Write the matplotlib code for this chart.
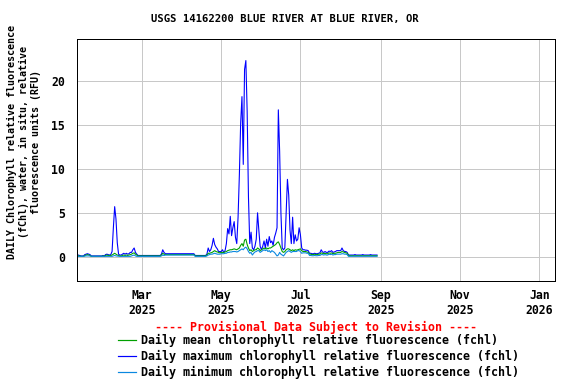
import matplotlib
matplotlib.use('Agg')
import matplotlib.pyplot as plt
import matplotlib.dates as mdates
import numpy as np
import pandas as pd
from matplotlib.lines import Line2D

plt.rcParams['font.family'] = 'DejaVu Sans Mono'
plt.rcParams['font.weight'] = 'bold'

# daily values, 2025-01-10 .. 2025-08-29
start_date = '2025-01-10'

fchl_max = [
    # Jan
    0.2, 0.2, 0.15, 0.1, 0.1, 0.1, 0.25, 0.3, 0.35, 0.3, 0.25,
    0.1, 0.1, 0.1, 0.1, 0.1, 0.1, 0.1, 0.1, 0.1, 0.15, 0.1,
    # Feb
    0.25, 0.3, 0.25, 0.2, 0.25, 0.6, 3.3, 5.7, 4.3, 1.6, 0.3,
    0.2, 0.2, 0.3, 0.4, 0.3, 0.4, 0.3, 0.35, 0.5,
    0.5, 0.8, 1.0, 0.5, 0.3, 0.15, 0.15, 0.15,
    # Mar
    0.15, 0.15, 0.15, 0.15, 0.15, 0.15, 0.15, 0.15, 0.15, 0.15,
    0.15, 0.15, 0.15, 0.15, 0.15, 0.3, 0.8, 0.5,
    0.35, 0.35, 0.35, 0.35, 0.35, 0.35, 0.35, 0.35, 0.35, 0.35, 0.35, 0.35, 0.35,
    # Apr
    0.35, 0.35, 0.35, 0.35, 0.35, 0.35, 0.35, 0.35, 0.35, 0.35,
    0.15, 0.15, 0.15, 0.15, 0.15, 0.15, 0.15, 0.15, 0.15,
    0.3, 1.0, 0.6, 0.8, 1.3, 2.1, 1.4, 1.1, 0.9, 0.6, 0.6,
    # May
    0.6, 0.8, 0.5, 0.7, 1.5, 3.2, 2.6, 4.6, 2.4, 3.3,
    4.0, 2.2, 1.5, 4.5, 9.3, 15.2, 18.2, 10.5, 21.3, 22.3,
    16.5, 6.8, 1.5, 2.8, 1.0, 0.8, 1.2, 2.0, 5.0, 3.0, 1.2,
    # Jun
    0.8, 1.2, 1.8, 1.0, 2.0, 1.2, 2.3, 1.6, 1.8, 1.3,
    2.2, 2.7, 3.3, 16.7, 12.0, 5.0, 1.0, 0.8, 1.0, 5.0,
    8.8, 7.0, 3.0, 1.5, 4.5, 1.5, 2.5, 1.8, 2.0, 3.3,
    # Jul
    2.5, 1.0, 0.8, 0.8, 0.75, 0.75, 0.7, 0.4, 0.4, 0.35,
    0.35, 0.4, 0.35, 0.35, 0.4, 0.45, 0.8, 0.55, 0.5, 0.6,
    0.5, 0.5, 0.65, 0.6, 0.7, 0.5, 0.55, 0.6, 0.7, 0.7, 0.7,
    # Aug
    0.7, 1.0, 0.7, 0.6, 0.6, 0.5, 0.2, 0.2, 0.2, 0.2,
    0.2, 0.25, 0.2, 0.2, 0.2, 0.2, 0.2, 0.25, 0.2, 0.2,
    0.2, 0.2, 0.2, 0.25, 0.2, 0.2, 0.2, 0.2, 0.2,
]

fchl_mean = [
    # Jan
    0.1, 0.1, 0.1, 0.05, 0.05, 0.05, 0.15, 0.2, 0.25, 0.2, 0.15,
    0.05, 0.05, 0.05, 0.05, 0.05, 0.05, 0.05, 0.05, 0.05, 0.1, 0.05,
    # Feb
    0.15, 0.2, 0.15, 0.15, 0.15, 0.2, 0.3, 0.4, 0.3, 0.2, 0.15,
    0.1, 0.1, 0.15, 0.2, 0.15, 0.2, 0.15, 0.2, 0.25,
    0.3, 0.4, 0.45, 0.3, 0.2, 0.1, 0.1, 0.1,
    # Mar
    0.1, 0.1, 0.1, 0.1, 0.1, 0.1, 0.1, 0.1, 0.1, 0.1,
    0.1, 0.1, 0.1, 0.1, 0.1, 0.2, 0.4, 0.3,
    0.25, 0.25, 0.25, 0.25, 0.25, 0.25, 0.25, 0.25, 0.25, 0.25, 0.25, 0.25, 0.25,
    # Apr
    0.25, 0.25, 0.25, 0.25, 0.25, 0.25, 0.25, 0.25, 0.25, 0.25,
    0.1, 0.1, 0.1, 0.1, 0.1, 0.1, 0.1, 0.1, 0.1,
    0.2, 0.4, 0.4, 0.45, 0.5, 0.6, 0.7, 0.6, 0.55, 0.5, 0.45,
    # May
    0.5, 0.5, 0.5, 0.55, 0.6, 0.7, 0.75, 0.8, 0.8, 0.85,
    0.9, 0.85, 0.8, 0.9, 1.0, 1.3, 1.5, 1.2, 1.9, 2.0,
    1.4, 1.0, 0.7, 0.8, 0.6, 0.7, 0.8, 0.8, 1.0, 0.9, 0.7,
    # Jun
    0.8, 0.9, 1.0, 0.9, 1.0, 0.9, 1.0, 1.0, 1.1, 1.2,
    1.3, 1.4, 1.6, 1.7, 1.4, 1.0, 0.6, 0.5, 0.6, 0.8,
    0.9, 0.9, 0.8, 0.7, 0.8, 0.7, 0.8, 0.75, 0.8, 0.85,
    # Jul
    0.9, 0.7, 0.6, 0.6, 0.6, 0.55, 0.5, 0.3, 0.3, 0.25,
    0.25, 0.3, 0.25, 0.25, 0.3, 0.3, 0.45, 0.4, 0.35, 0.4,
    0.35, 0.35, 0.45, 0.4, 0.45, 0.35, 0.4, 0.4, 0.45, 0.5, 0.5,
    # Aug
    0.5, 0.6, 0.55, 0.5, 0.45, 0.4, 0.15, 0.12, 0.12, 0.12,
    0.12, 0.12, 0.12, 0.12, 0.12, 0.12, 0.12, 0.12, 0.12, 0.12,
    0.12, 0.12, 0.12, 0.12, 0.12, 0.12, 0.12, 0.12, 0.12,
]

fchl_min = [
    # Jan
    0.05, 0.05, 0.05, 0.05, 0.05, 0.05, 0.08, 0.1, 0.1, 0.1, 0.08,
    0.05, 0.05, 0.05, 0.05, 0.05, 0.05, 0.05, 0.05, 0.05, 0.05, 0.05,
    # Feb
    0.05, 0.05, 0.05, 0.05, 0.05, 0.05, 0.1, 0.15, 0.1, 0.08, 0.05,
    0.05, 0.05, 0.05, 0.05, 0.05, 0.05, 0.05, 0.05, 0.05,
    0.1, 0.15, 0.2, 0.1, 0.05, 0.05, 0.05, 0.05,
    # Mar
    0.05, 0.05, 0.05, 0.05, 0.05, 0.05, 0.05, 0.05, 0.05, 0.05,
    0.05, 0.05, 0.05, 0.05, 0.05, 0.1, 0.2, 0.15,
    0.2, 0.2, 0.2, 0.2, 0.2, 0.2, 0.2, 0.2, 0.2, 0.2, 0.2, 0.2, 0.2,
    # Apr
    0.2, 0.2, 0.2, 0.2, 0.2, 0.2, 0.2, 0.2, 0.2, 0.2,
    0.05, 0.05, 0.05, 0.05, 0.05, 0.05, 0.05, 0.05, 0.05,
    0.1, 0.2, 0.25, 0.3, 0.3, 0.35, 0.4, 0.35, 0.3, 0.3, 0.3,
    # May
    0.35, 0.35, 0.35, 0.4, 0.4, 0.5, 0.5, 0.55, 0.55, 0.6,
    0.6, 0.6, 0.55, 0.6, 0.7, 0.8, 0.9, 0.8, 1.0, 1.1,
    0.9, 0.6, 0.4, 0.5, 0.2, 0.4, 0.55, 0.6, 0.7, 0.7, 0.5,
    # Jun
    0.6, 0.7, 0.8, 0.7, 0.8, 0.6, 0.7, 0.5, 0.7, 0.6,
    0.5, 0.3, 0.1, 0.2, 0.5, 0.3, 0.2, 0.1, 0.3, 0.5,
    0.6, 0.7, 0.6, 0.5, 0.6, 0.6, 0.6, 0.6, 0.7, 0.7,
    # Jul
    0.6, 0.4, 0.45, 0.45, 0.45, 0.4, 0.4, 0.15, 0.15, 0.12,
    0.12, 0.15, 0.12, 0.12, 0.15, 0.15, 0.25, 0.25, 0.2, 0.25,
    0.2, 0.2, 0.3, 0.25, 0.3, 0.2, 0.25, 0.25, 0.3, 0.3, 0.3,
    # Aug
    0.3, 0.35, 0.35, 0.3, 0.3, 0.25, 0.05, 0.06, 0.06, 0.06,
    0.06, 0.06, 0.06, 0.06, 0.06, 0.06, 0.06, 0.06, 0.06, 0.06,
    0.06, 0.06, 0.06, 0.06, 0.06, 0.06, 0.06, 0.06, 0.06,
]

dates = pd.date_range(start_date, periods=len(fchl_max), freq='D')

legend_labels = ['Daily mean chlorophyll relative fluorescence (fchl)',
                 'Daily maximum chlorophyll relative fluorescence (fchl)',
                 'Daily minimum chlorophyll relative fluorescence (fchl)']
colors = ['#00a000', '#0000ff', '#0a88e0']

W, H = 576, 384
fig = plt.figure(figsize=(W / 72, H / 72), dpi=72)
ax = fig.add_axes([77 / W, 1 - 281 / H, 478 / W, 242 / H])

ax.plot(dates, fchl_max, color=colors[1], lw=1.1)
ax.plot(dates, fchl_mean, color=colors[0], lw=1.1)
ax.plot(dates, fchl_min, color=colors[2], lw=1.1)

ax.set_xlim(pd.Timestamp('2025-01-10'), pd.Timestamp('2026-01-13'))
ax.set_ylim(-2.75, 24.75)
ax.set_yticks([0, 5, 10, 15, 20])
ax.xaxis.set_major_locator(mdates.MonthLocator(bymonth=[1, 3, 5, 7, 9, 11]))
ax.xaxis.set_major_formatter(mdates.DateFormatter('%b\n%Y'))
ax.grid(True, color='#c8c8c8', lw=1)
ax.set_axisbelow(True)
ax.tick_params(axis='both', length=0, labelsize=11.5)
ax.tick_params(axis='y', pad=12)
ax.tick_params(axis='x', pad=8)
for s in ax.spines.values():
    s.set_linewidth(1)

fig.text(0.495, 1 - 19 / H, 'USGS 14162200 BLUE RIVER AT BLUE RIVER, OR',
         ha='center', va='center', fontsize=10.5, fontweight='bold')

fig.text(24 / W, 1 - 142 / H,
         'DAILY Chlorophyll relative fluorescence\n(fChl), water, in situ, relative\nfluorescence units (RFU)',
         rotation=90, ha='center', va='center', multialignment='center',
         fontsize=10, fontweight='bold', linespacing=1.3)

fig.text(316 / W, 1 - 327 / H, '---- Provisional Data Subject to Revision ----',
         ha='center', va='center', color='red', fontsize=11.6, fontweight='bold')

handles = [Line2D([], [], color=c, lw=1.2) for c in colors]
fig.legend(handles, legend_labels, loc='upper left', bbox_to_anchor=(118 / W, 1 - 334 / H),
           frameon=False, fontsize=11.6, handlelength=1.55, handletextpad=0.45,
           labelspacing=0.24, borderpad=0, borderaxespad=0)

fig.savefig('out.png', dpi=72)
